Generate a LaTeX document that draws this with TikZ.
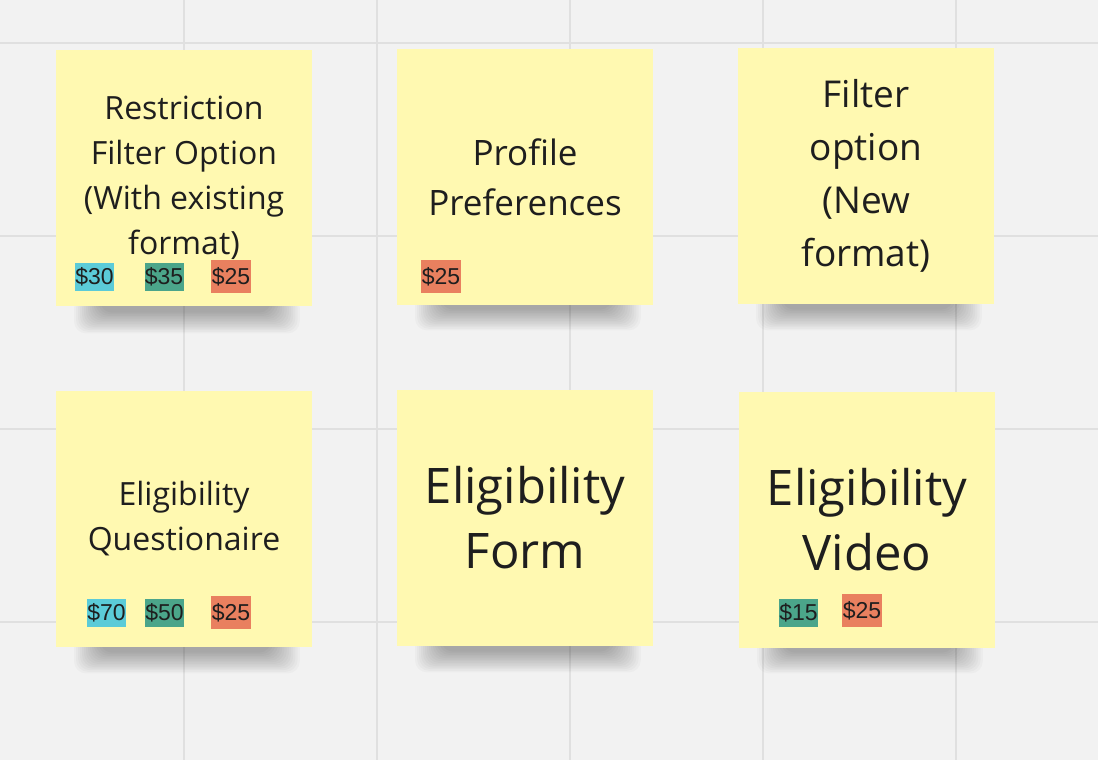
\documentclass[tikz,border=0pt]{standalone}
\usepackage{fontspec}
\setmainfont{Open Sans}
\newfontfamily\tagfont{Liberation Sans}
\definecolor{bg}{HTML}{F2F2F2}
\definecolor{gridc}{HTML}{E0E0E0}
\definecolor{sticky}{HTML}{FFF9B1}
\definecolor{tcyan}{HTML}{5BCBD8}
\definecolor{tgreen}{HTML}{4BA58A}
\definecolor{torange}{HTML}{E9805F}
\definecolor{ink}{HTML}{1E1E1E}
\tikzset{
  note/.style={fill=sticky, minimum width=256pt, minimum height=256pt, inner sep=0pt, align=center, text=ink},
  small/.style={font=\fontsize{32}{45}\selectfont},
  medium/.style={font=\fontsize{35}{50}\selectfont},
  large/.style={font=\fontsize{37}{53}\selectfont},
  huge/.style={font=\fontsize{49}{65}\selectfont},
  tagbox/.style={inner sep=0pt, minimum width=39pt, minimum height=28pt, text=ink, font=\tagfont\fontsize{23}{23}\selectfont},
  orangetag/.style={tagbox, fill=torange, minimum width=40pt, minimum height=33pt},
}
\begin{document}
\begin{tikzpicture}[x=1pt,y=-1pt]
\fill[bg] (0,0) rectangle (1098,760);
\useasboundingbox (0,0) rectangle (1098,760);
\foreach \x in {184,377,570,763,956} \draw[gridc, line width=2pt] (\x,0) -- (\x,760);
\foreach \y in {43,236,429,622} \draw[gridc, line width=2pt] (0,\y) -- (1098,\y);

% shadows
\foreach \cx/\by in {184/308, 525/305, 866/305, 184/648, 525/647, 867/648}{
  \foreach \k in {1,...,14}{
    \fill[black, opacity=0.022, rounded corners=12pt] (\cx-112+\k*2,\by-12) rectangle (\cx+118-\k*2.2,\by+27-\k*1.6);
  }
}

% stickies
\node[note, small] (n1) at (184,178) {Restriction\\Filter Option\\(With existing\\format)};
\node[note, medium] (n2) at (525,177) {Profile\\Preferences};
\node[note, large] (n3) at (866,176) {Filter\\option\\(New\\format)};
\node[note, small] (n4) at (184,519) {Eligibility\\Questionaire};
\node[note, huge] (n5) at (525,518) {Eligibility\\Form};
\node[note, huge] (n6) at (867,520) {Eligibility\\Video};

% tags
\node[tagbox, fill=tcyan] (t1a) at (94.5,277) {\$30};
\node[tagbox, fill=tgreen] (t1b) at (164,277) {\$35};
\node[orangetag] (t1c) at (231,276.5) {\$25};
\node[orangetag] (t2a) at (441,276.5) {\$25};
\node[tagbox, fill=tcyan] (t4a) at (106.5,612.5) {\$70};
\node[tagbox, fill=tgreen] (t4b) at (164.5,613) {\$50};
\node[orangetag] (t4c) at (231,612.5) {\$25};
\node[tagbox, fill=tgreen] (t6a) at (798.5,613) {\$15};
\node[orangetag] (t6b) at (862,610.5) {\$25};
\end{tikzpicture}
\end{document}
